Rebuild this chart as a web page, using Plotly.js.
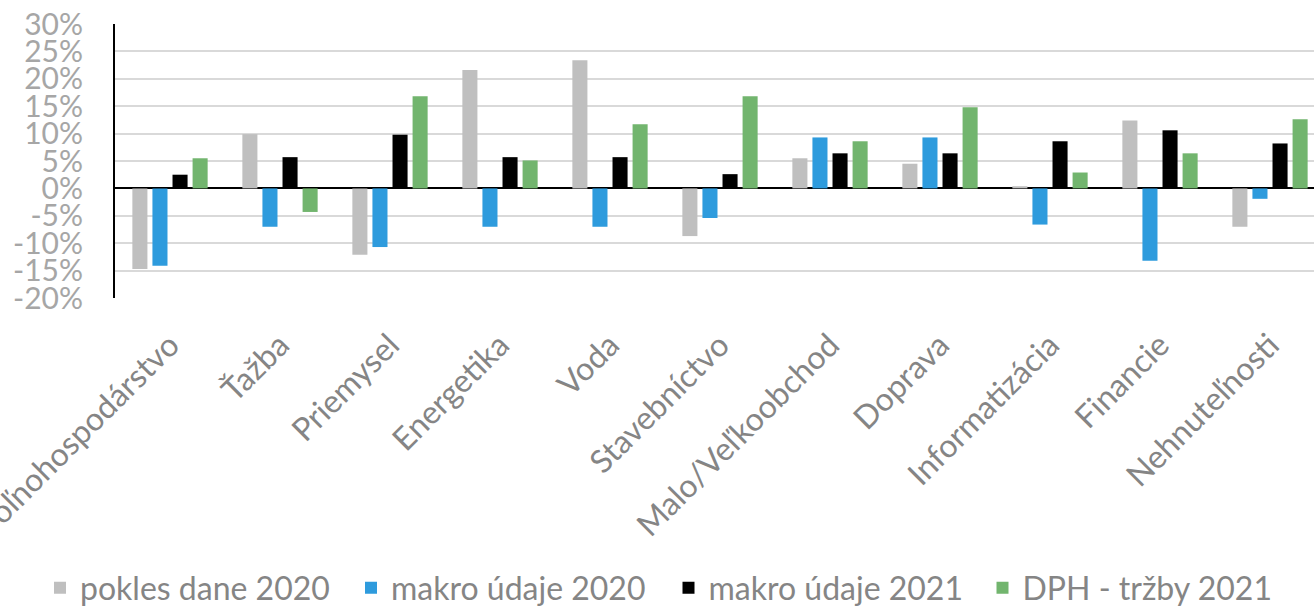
<!DOCTYPE html>
<html>
<head>
<meta charset="utf-8">
<script src="https://cdn.plot.ly/plotly-3.0.1.min.js"></script>
<style>html,body{margin:0;padding:0;background:#fff;}#chart{width:1314px;height:606px;}</style>
</head>
<body>
<div id="chart"></div>
<script>
const categories = ["Poľnohospodárstvo","Ťažba","Priemysel","Energetika","Voda","Stavebníctvo","Malo/Veľkoobchod","Doprava","Informatizácia","Financie","Nehnuteľnosti"];
const seriesNames = ["pokles dane 2020","makro údaje 2020","makro údaje 2021","DPH - tržby 2021"];
const poklesDane2020 = [-14.7, 9.9, -12.1, 21.6, 23.4, -8.7, 5.5, 4.5, 0.4, 12.4, -7.0];
const makroUdaje2020 = [-14.1, -7.0, -10.7, -7.0, -7.0, -5.4, 9.3, 9.3, -6.6, -13.2, -1.9];
const makroUdaje2021 = [2.5, 5.7, 9.8, 5.7, 5.7, 2.6, 6.4, 6.4, 8.6, 10.6, 8.2];
const dphTrzby2021 = [5.5, -4.3, 16.8, 5.1, 11.7, 16.8, 8.6, 14.8, 2.9, 6.4, 12.6];
const yTickVals = [-20,-15,-10,-5,0,5,10,15,20,25,30];
const yTickText = ["-20%","-15%","-10%","-5%","0%","5%","10%","15%","20%","25%","30%"];
const colors = ["#BFBFBF","#2E9BDD","#000000","#72B56E"];

const seriesValues = [poklesDane2020, makroUdaje2020, makroUdaje2021, dphTrzby2021];
const legendIds = ['legend','legend2','legend3','legend4'];
const legendX = [40, 351, 668.5, 982.5];
const font = 'Lato, "Open Sans", sans-serif';

const data = seriesValues.map((vals, i) => ({
  type: 'bar',
  name: seriesNames[i],
  legend: legendIds[i],
  x: categories,
  y: vals,
  marker: {color: colors[i], line: {width: 0}},
  hoverinfo: 'x+y'
}));

const layout = {
  width: 1314,
  height: 606,
  margin: {l: 115, r: 0, t: 24, b: 308, pad: 0},
  paper_bgcolor: '#fff',
  plot_bgcolor: '#fff',
  barmode: 'group',
  bargap: 0.27,
  bargroupgap: 0.25,
  showlegend: true,
  xaxis: {
    type: 'category',
    range: [-0.5, 10.4],
    tickangle: -45,
    ticks: '',
    ticklabelstandoff: 21,
    tickfont: {family: font, size: 32, weight: 400, color: '#858585'},
    showgrid: false,
    showline: false,
    zeroline: false,
    automargin: false,
    fixedrange: true
  },
  yaxis: {
    range: [-20, 30],
    tickvals: yTickVals,
    ticktext: yTickText,
    tickfont: {family: font, size: 30, weight: 400, color: '#A6A6A6'},
    ticks: '',
    ticklabelstandoff: 24,
    showgrid: true,
    gridcolor: '#D9D9D9',
    gridwidth: 2,
    zeroline: true,
    zerolinecolor: '#000000',
    zerolinewidth: 2,
    showline: true,
    linecolor: '#000000',
    linewidth: 2,
    automargin: false,
    fixedrange: true
  }
};
legendIds.forEach((id, i) => {
  layout[id] = {
    orientation: 'h',
    xref: 'container', x: legendX[i] / 1314, xanchor: 'left',
    yref: 'container', y: (606 - 588) / 606, yanchor: 'middle',
    font: {family: font, size: 32, weight: 400, color: '#858585'},
    bgcolor: 'rgba(0,0,0,0)'
  };
});

Plotly.newPlot('chart', data, layout, {displayModeBar: false, staticPlot: true});
</script>
</body>
</html>
